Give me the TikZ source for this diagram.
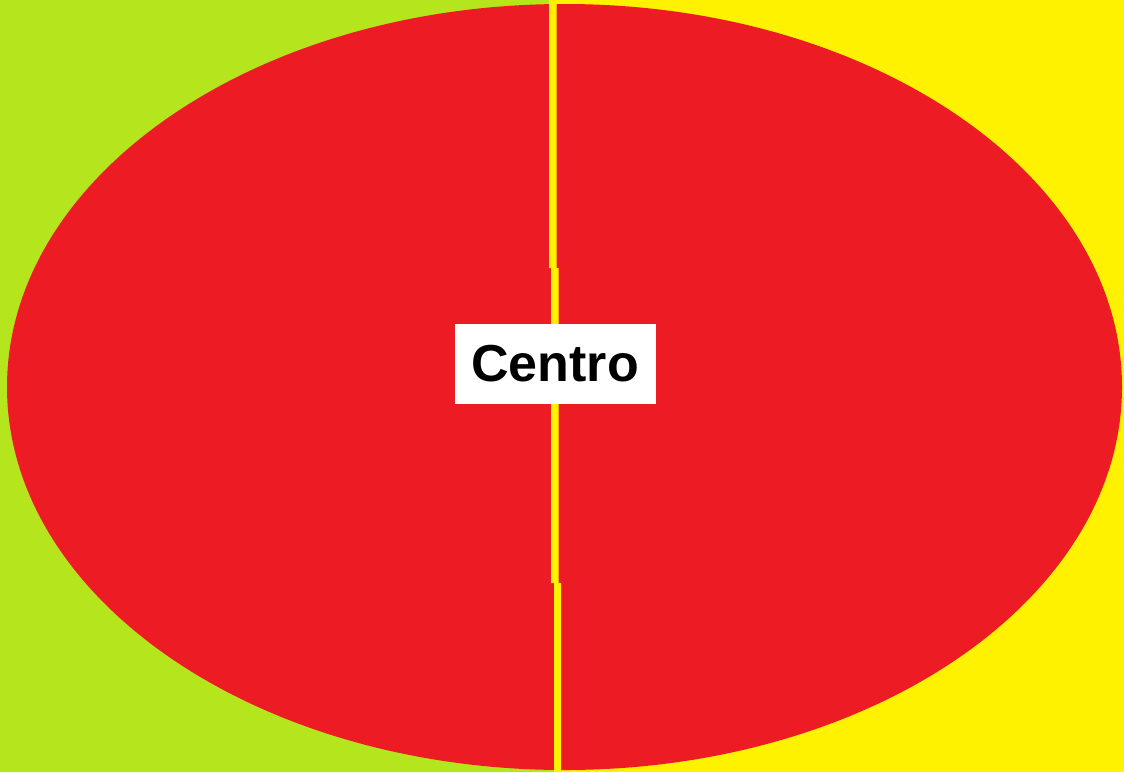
\documentclass[tikz,border=0pt]{standalone}
\usepackage{fontspec}
\setmainfont{Liberation Sans}
\definecolor{bggreen}{HTML}{B5E61D}
\definecolor{bgyellow}{HTML}{FFF200}
\definecolor{ovalred}{HTML}{ED1C24}
\begin{document}
\begin{tikzpicture}[x=1pt,y=-1pt,
  labelbox/.style={fill=white,inner sep=0pt,minimum width=201pt,minimum height=80pt,font=\fontsize{52}{60}\selectfont\bfseries}]
\useasboundingbox (0,0) rectangle (1124,772);
\fill[bgyellow] (0,0) rectangle (1124,772);
\fill[bggreen] (0,0) -- (549,0) -- (549,268) -- (551,268) -- (551,583) -- (554,583) -- (554,772) -- (0,772) -- cycle;
\fill[ovalred] (564.5,387) ellipse [x radius=557.5, y radius=383];
\fill[bgyellow] (549,0) -- (556.5,0) -- (556.5,268) -- (558.5,268) -- (558.5,583) -- (561,583) -- (561,772) -- (554,772) -- (554,583) -- (551,583) -- (551,268) -- (549,268) -- cycle;
\node[labelbox] (centro) at (555,364) {Centro};
\end{tikzpicture}
\end{document}
